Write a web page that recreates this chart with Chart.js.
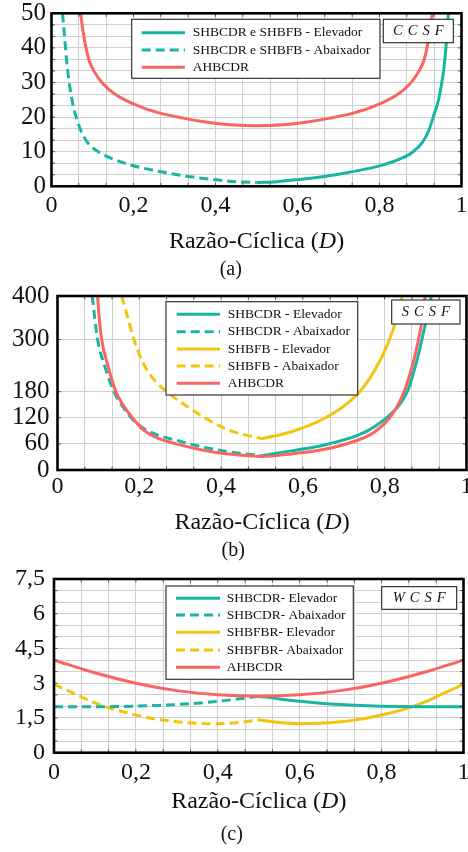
<!DOCTYPE html>
<html lang="pt">
<head>
<meta charset="utf-8">
<title>CCSF / SCSF / WCSF</title>
<script src="https://cdn.jsdelivr.net/npm/chart.js@4.4.1/dist/chart.umd.min.js"></script>
<style>
  html, body { margin: 0; padding: 0; background: #fff; }
  #wrap { position: relative; width: 468px; height: 852px; }
  canvas { position: absolute; left: 0; }
</style>
</head>
<body>
<div id="wrap">
  <canvas id="ccsf" width="468" height="284" style="top:0"></canvas>
  <canvas id="scsf" width="468" height="284" style="top:284px"></canvas>
  <canvas id="wcsf" width="468" height="284" style="top:568px"></canvas>
</div>
<script>
/* TICKS */
const xLabels = ["0", "0,2", "0,4", "0,6", "0,8", "1"];
const aYLabels = ["0", "10", "20", "30", "40", "50"];
const bYTicks = [0, 60, 120, 180, 300, 400];
const cYLabels = ["0", "1,5", "3", "4,5", "6", "7,5"];

/* (a) CCSF */
const aDownD = [0.027,0.032,0.037,0.042,0.048,0.054,0.061,0.072,0.086,0.1,0.118,0.15,0.191,0.25,0.3,0.338,0.4,0.45,0.5];
const aDownV = [50,43,36.3,31,26.3,22.5,19.7,16,13,11.2,9.7,7.9,6.2,4.6,3.5,2.75,1.9,1.35,1.1];
const aUpD = [0.5,0.55,0.6,0.662,0.7,0.75,0.809,0.85,0.882,0.905,0.92,0.931,0.944,0.952,0.957,0.962,0.968];
const aUpV = [1.1,1.35,1.9,2.75,3.5,4.6,6.2,7.9,10,12.8,16,20,25,30,34,40,50];
const aAhbD = [0.071,0.078,0.085,0.092,0.105,0.126,0.159,0.216,0.26,0.321,0.38,0.435,0.5,0.565,0.62,0.679,0.74,0.784,0.841,0.874,0.895,0.908,0.915,0.922,0.929];
const aAhbV = [50,44,39.5,36.3,33,29.6,26.3,23,21.3,19.7,18.5,17.8,17.5,17.8,18.5,19.7,21.3,23,26.3,29.6,33,36.3,39.5,44,50];

/* (b) SCSF */
const bCdrDownD = [0.085,0.091,0.098,0.116,0.138,0.158,0.18,0.21,0.238,0.3,0.336,0.417,0.5];
const bCdrDownV = [400,350,300,237,180,148,120,96,83,66,57,42,33];
const bCdrUpD = [0.5,0.572,0.653,0.735,0.776,0.817,0.84,0.857,0.881,0.898,0.914];
const bCdrUpV = [33,44,57.5,80,100,130,155,184,260,330,400];
const bFbDownD = [0.157,0.172,0.187,0.21,0.238,0.267,0.3,0.36,0.418,0.5];
const bFbDownV = [400,350,300,245,205,180,157,120,92,72];
const bFbUpD = [0.5,0.572,0.653,0.735,0.776,0.808,0.828,0.843];
const bFbUpV = [72,88,119,176,230,291,345,400];
const bAhbD = [0.098,0.102,0.108,0.124,0.143,0.16,0.183,0.21,0.238,0.29,0.36,0.417,0.5,0.572,0.653,0.735,0.776,0.817,0.849,0.873,0.89,0.899];
const bAhbV = [400,350,300,237,180,150,120,92,76,60,45,37,31,37,47.5,69,88,126,184,260,337,400];

/* (c) WCSF */
const cLoD = [0,0.05,0.1,0.15,0.2,0.25,0.3,0.35,0.4,0.45,0.5];
const cHiD = [0.5,0.55,0.6,0.65,0.7,0.75,0.8,0.85,0.9,0.95,1];
const cFullD = [0,0.1,0.2,0.3,0.4,0.5,0.6,0.7,0.8,0.9,1];
const cCdrDown = [1.98,1.98,1.98,1.99,2.01,2.04,2.08,2.14,2.22,2.32,2.44];
const cCdrUp = [2.44,2.32,2.22,2.14,2.08,2.04,2.01,1.99,1.98,1.98,1.98];
const cFbDown = [2.95,2.55,2.15,1.85,1.63,1.45,1.34,1.27,1.25,1.3,1.42];
const cFbUp = [1.42,1.3,1.25,1.27,1.34,1.45,1.63,1.85,2.15,2.55,2.95];
const cAhb = [4.0,3.45,3.0,2.68,2.5,2.44,2.5,2.68,3.0,3.45,4.0];

/* STYLE */
const SERIF = '"Liberation Serif", "DejaVu Serif", serif';
const TEAL = "#17b6a2", GOLD = "#f2c40e", CORAL = "#fb6461";
const GRID = "#cfcfcf";
Chart.defaults.font.family = SERIF;
Chart.defaults.color = "#111";

// grid every third of a labelled step
const xGrid = Array.from({ length: 16 }, (_, k) => k / 15);
const aYGrid = Array.from({ length: 16 }, (_, k) => k * 10 / 3);
const cYGrid = Array.from({ length: 16 }, (_, k) => k * 0.5);

const pts = (xs, ys) => xs.map((x, i) => ({ x, y: ys[i] }));
function curve(label, xs, ys, color, dashed, order) {
  return {
    label, data: pts(xs, ys), borderColor: color, backgroundColor: color,
    borderWidth: 3, borderDash: dashed ? [9, 5] : [], pointRadius: 0,
    cubicInterpolationMode: "monotone", fill: false, order
  };
}

/* frame, tick marks, legend box, tag box, axis title */
const decor = {
  id: "decor",
  afterDraw(chart, args, o) {
    const { ctx, chartArea: a, scales: { x, y } } = chart;
    ctx.save();
    ctx.strokeStyle = "#555"; ctx.lineWidth = 1;
    ctx.beginPath();
    x.ticks.forEach(t => {
      const p = x.getPixelForValue(t.value);
      ctx.moveTo(p, a.bottom); ctx.lineTo(p, a.bottom - 3.5);
      ctx.moveTo(p, a.top); ctx.lineTo(p, a.top + 3.5);
    });
    y.ticks.forEach(t => {
      const p = y.getPixelForValue(t.value);
      ctx.moveTo(a.left, p); ctx.lineTo(a.left + 3.5, p);
      ctx.moveTo(a.right, p); ctx.lineTo(a.right - 3.5, p);
    });
    ctx.stroke();

    ctx.strokeStyle = "#000"; ctx.lineWidth = 2.6;
    ctx.strokeRect(a.left, a.top, a.right - a.left, a.bottom - a.top);

    // legend
    const L = o.legend;
    ctx.fillStyle = "#fff"; ctx.fillRect(L.x, L.y, L.w, L.h);
    ctx.strokeStyle = "#222"; ctx.lineWidth = 1.1; ctx.strokeRect(L.x, L.y, L.w, L.h);
    ctx.font = "13.5px " + SERIF; ctx.textBaseline = "middle"; ctx.textAlign = "left";
    chart.data.datasets.forEach((ds, i) => {
      const ry = L.rows[i];
      ctx.strokeStyle = ds.borderColor; ctx.lineWidth = ds.borderWidth;
      ctx.setLineDash(ds.borderDash);
      ctx.beginPath(); ctx.moveTo(L.x0, ry); ctx.lineTo(L.x1, ry); ctx.stroke();
      ctx.setLineDash([]);
      ctx.fillStyle = "#111"; ctx.fillText(ds.label, L.tx, ry);
    });

    // tag
    const T = o.tag;
    ctx.fillStyle = "#fff"; ctx.fillRect(T.x, T.y, T.w, T.h);
    ctx.strokeStyle = "#222"; ctx.lineWidth = 1.1; ctx.strokeRect(T.x, T.y, T.w, T.h);
    ctx.font = "italic 14.5px " + SERIF; ctx.fillStyle = "#111";
    const chars = [...T.text], gap = 5;
    const tw = chars.reduce((s, c) => s + ctx.measureText(c).width, 0) + gap * (chars.length - 1);
    let cx = T.x + T.w / 2 - tw / 2;
    chars.forEach(c => { ctx.fillText(c, cx, T.y + T.h / 2 + 0.5); cx += ctx.measureText(c).width + gap; });

    // x axis title, D in italics
    const parts = [["Razão-Cíclica (", ""], ["D", "italic "], [")", ""]];
    let total = 0;
    parts.forEach(p => { ctx.font = p[1] + "24px " + SERIF; total += ctx.measureText(p[0]).width; });
    let tx = (a.left + a.right) / 2 - total / 2;
    parts.forEach(p => {
      ctx.font = p[1] + "24px " + SERIF;
      ctx.fillText(p[0], tx, o.titleY);
      tx += ctx.measureText(p[0]).width;
    });
    ctx.restore();
  }
};

function makeChart(id, c) {
  return new Chart(document.getElementById(id), {
    type: "line",
    data: { datasets: c.datasets },
    options: {
      responsive: false, animation: false, events: [],
      layout: { padding: { top: c.top, right: c.right, left: 0, bottom: 0 } },
      scales: {
        x: {
          type: "linear", min: 0, max: 1,
          afterBuildTicks: s => { s.ticks = xGrid.map(v => ({ value: v })); },
          afterFit: s => { s.height = c.xH; s.paddingLeft = 0; s.paddingRight = 0; },
          grid: { color: GRID, lineWidth: 1, drawTicks: false },
          border: { display: false },
          ticks: {
            autoSkip: false, maxRotation: 0, padding: c.xPad, color: "#111",
            font: { size: 24 },
            callback: (v, i) => (i % 3 === 0 ? xLabels[i / 3] : "")
          }
        },
        y: {
          type: "linear", min: 0, max: c.yMax,
          afterBuildTicks: s => { s.ticks = c.yGrid.map(v => ({ value: v })); },
          afterFit: s => { s.width = c.left; s.paddingTop = 0; s.paddingBottom = 0; },
          grid: { color: GRID, lineWidth: 1, drawTicks: false },
          border: { display: false },
          ticks: {
            autoSkip: false, padding: c.yPad, color: "#111",
            font: { size: c.yFont },
            callback: c.yLabel
          }
        }
      },
      plugins: {
        legend: { display: false },
        tooltip: { enabled: false },
        title: {
          display: true, position: "bottom", text: c.caption, color: "#111",
          font: { size: 20, weight: "normal" }, padding: { top: 0, bottom: c.capPad }
        },
        decor: { legend: c.legend, tag: c.tag, titleY: c.titleY }
      }
    },
    plugins: [decor]
  });
}

makeChart("ccsf", {
  datasets: [
    curve("SHBCDR e SHBFB - Elevador", aUpD, aUpV, TEAL, false, 1),
    curve("SHBCDR e SHBFB - Abaixador", aDownD, aDownV, TEAL, true, 2),
    curve("AHBCDR", aAhbD, aAhbV, CORAL, false, 0)
  ],
  top: 13.3, right: 6.5, left: 51.5, xH: 71.7, xPad: 5, yPad: 5.5, yFont: 25, capPad: 2,
  yMax: 50, yGrid: aYGrid,
  yLabel: (v, i) => (i % 3 === 0 ? aYLabels[i / 3] : ""),
  caption: "(a)", titleY: 241.5,
  legend: { x: 131.7, y: 19.3, w: 248.3, h: 59, rows: [32.7, 50, 67.3], x0: 141.7, x1: 185, tx: 192.7 },
  tag: { text: "CCSF", x: 383.3, y: 19.3, w: 70, h: 23.4 }
});

makeChart("scsf", {
  datasets: [
    curve("SHBCDR - Elevador", bCdrUpD, bCdrUpV, TEAL, false, 1),
    curve("SHBCDR - Abaixador", bCdrDownD, bCdrDownV, TEAL, true, 2),
    curve("SHBFB - Elevador", bFbUpD, bFbUpV, GOLD, false, 3),
    curve("SHBFB - Abaixador", bFbDownD, bFbDownV, GOLD, true, 4),
    curve("AHBCDR", bAhbD, bAhbV, CORAL, false, 0)
  ],
  top: 12, right: 1.5, left: 57.5, xH: 69, xPad: 2.6, yPad: 8, yFont: 25, capPad: 5,
  yMax: 400, yGrid: bYTicks,
  yLabel: v => String(v),
  caption: "(b)", titleY: 238.8,
  legend: { x: 166, y: 17.7, w: 191.7, h: 93.3, rows: [30.3, 47.7, 65, 82, 99.3], x0: 176.7, x1: 220, tx: 227.7 },
  tag: { text: "SCSF", x: 391.7, y: 16, w: 68.3, h: 24 }
});

makeChart("wcsf", {
  datasets: [
    curve("SHBCDR- Elevador", cHiD, cCdrUp, TEAL, false, 1),
    curve("SHBCDR- Abaixador", cLoD, cCdrDown, TEAL, true, 2),
    curve("SHBFBR- Elevador", cHiD, cFbUp, GOLD, false, 3),
    curve("SHBFBR- Abaixador", cLoD, cFbDown, GOLD, true, 4),
    curve("AHBCDR", cFullD, cAhb, CORAL, false, 0)
  ],
  top: 11, right: 4.5, left: 54, xH: 70.3, xPad: 5.4, yPad: 9, yFont: 24, capPad: 5,
  yMax: 7.5, yGrid: cYGrid,
  yLabel: (v, i) => (i % 3 === 0 ? cYLabels[i / 3] : ""),
  caption: "(c)", titleY: 233.3,
  legend: { x: 166, y: 18, w: 187.3, h: 93.3, rows: [30.3, 47, 64.3, 82, 99.3], x0: 176, x1: 220, tx: 226.7 },
  tag: { text: "WCSF", x: 381.7, y: 18.7, w: 75, h: 22.6 }
});
</script>
</body>
</html>
